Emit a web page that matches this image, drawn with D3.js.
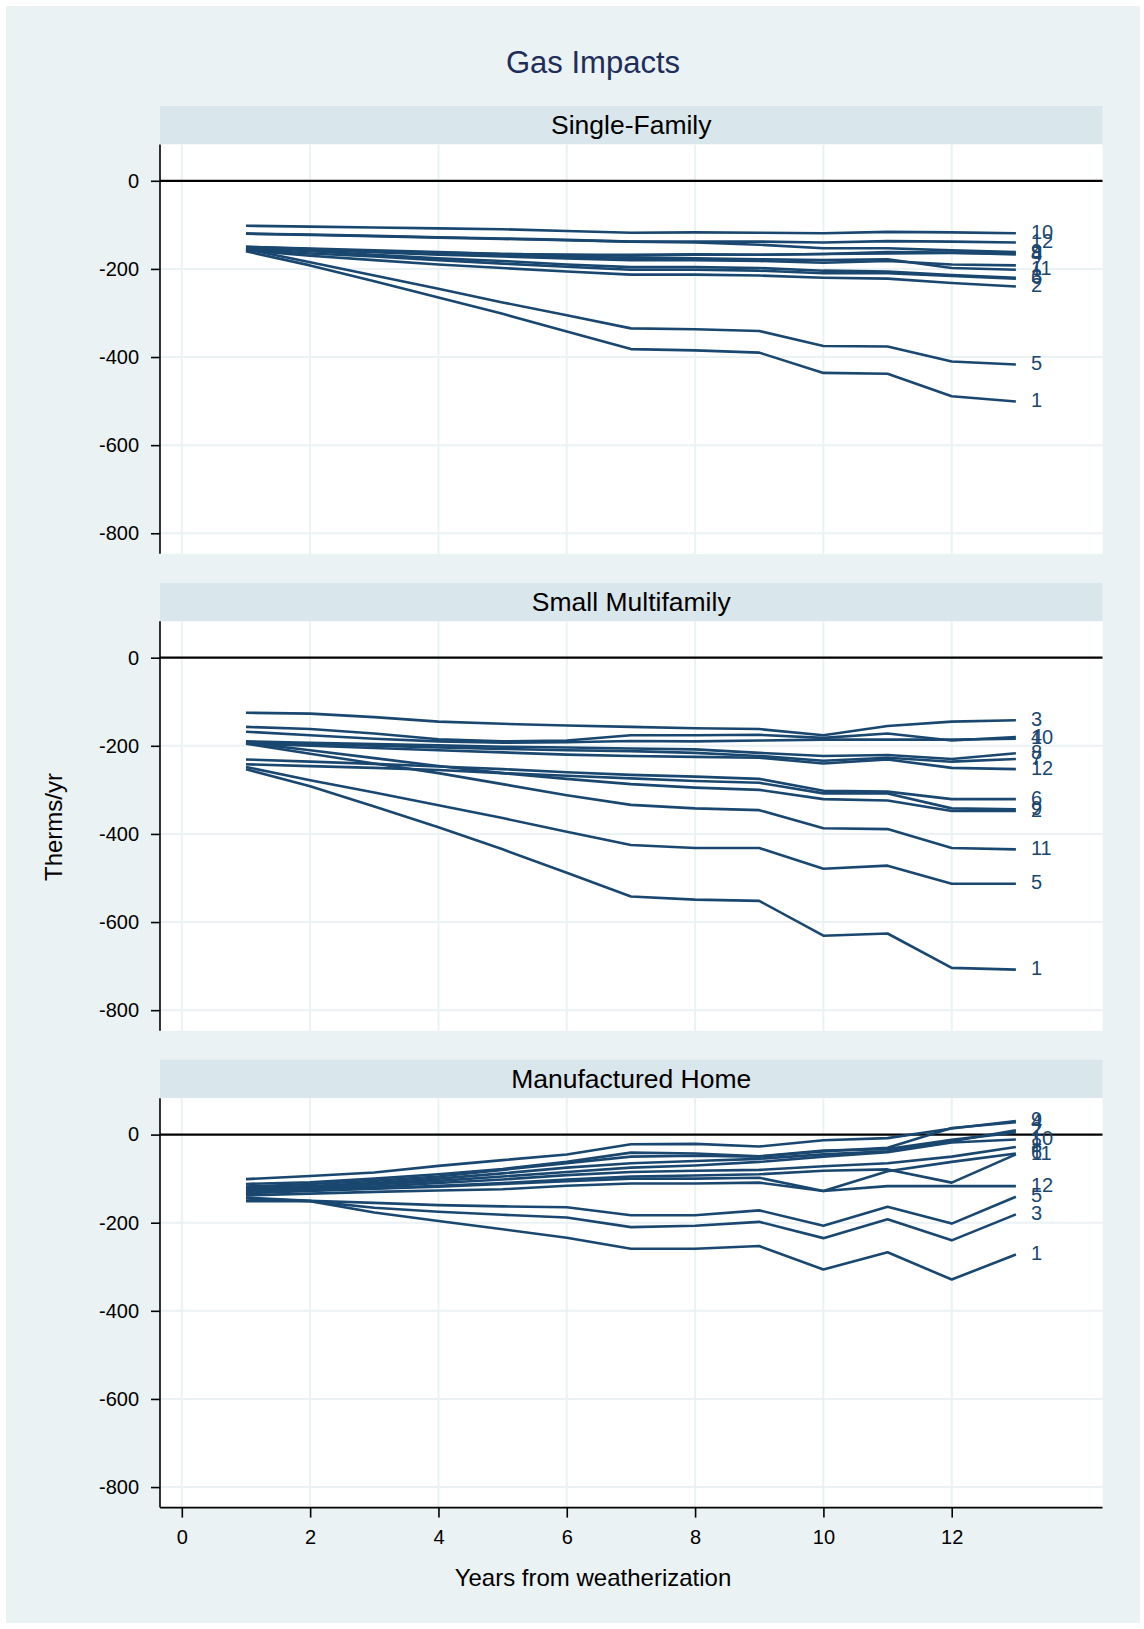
<!DOCTYPE html>
<html>
<head>
<meta charset="utf-8">
<script src="https://cdn.jsdelivr.net/npm/d3@7"></script>
<style>
  html, body { margin: 0; padding: 0; background: #ffffff; }
  svg { display: block; }
  text { font-family: "Liberation Sans", Arial, Helvetica, sans-serif; }
</style>
</head>
<body>
<svg id="chart" width="1144" height="1629"></svg>
<script>
// Years since weatherization (x values shared by every series)
const years = [1, 2, 3, 4, 5, 6, 7, 8, 9, 10, 11, 12, 13];

// Group names, used as the end-of-line labels
const seriesNames = ["1", "2", "3", "4", "5", "6", "7", "8", "9", "10", "11", "12"];

const panelTitles = ["Single-Family", "Small Multifamily", "Manufactured Home"];

// Therms/yr impact, one row per group (1..12), one column per year (1..13)
const singleFamily = [
  [-160, -192, -228, -265, -302, -342, -382, -385, -390, -436, -438, -489, -501],
  [-158, -170, -180, -190, -198, -206, -213, -213, -215, -220, -222, -232, -240],
  [-152, -160, -168, -176, -182, -190, -196, -196, -198, -204, -206, -214, -220],
  [-150, -154, -158, -162, -166, -168, -170, -168, -168, -166, -162, -163, -167],
  [-155, -185, -215, -245, -276, -305, -335, -337, -341, -375, -376, -410, -417],
  [-156, -165, -172, -180, -188, -195, -202, -202, -204, -210, -210, -216, -222],
  [-152, -157, -162, -168, -172, -176, -180, -180, -182, -186, -182, -190, -192],
  [-155, -158, -160, -163, -166, -168, -168, -167, -168, -166, -165, -164, -165],
  [-120, -123, -126, -129, -132, -135, -138, -140, -145, -153, -153, -158, -162],
  [-102, -104, -106, -108, -110, -114, -118, -117, -118, -119, -116, -117, -119],
  [-150, -155, -160, -165, -168, -172, -175, -176, -178, -180, -178, -198, -202],
  [-120, -122, -125, -128, -131, -134, -138, -138, -138, -140, -137, -138, -140]
];

const smallMultifamily = [
  [-253, -292, -338, -385, -435, -488, -542, -549, -552, -631, -626, -704, -708],
  [-193, -210, -228, -246, -262, -275, -287, -295, -300, -321, -324, -348, -348],
  [-125, -127, -135, -145, -150, -154, -157, -160, -162, -176, -155, -145, -142],
  [-157, -162, -172, -185, -190, -188, -176, -176, -175, -182, -172, -188, -180],
  [-248, -278, -306, -335, -364, -395, -425, -432, -432, -479, -472, -513, -513],
  [-231, -236, -241, -247, -253, -260, -266, -270, -275, -302, -304, -321, -321],
  [-192, -196, -200, -204, -207, -210, -212, -216, -223, -234, -227, -236, -230],
  [-190, -193, -196, -199, -202, -204, -206, -208, -216, -223, -221, -230, -217],
  [-242, -246, -250, -255, -262, -268, -274, -280, -284, -308, -308, -342, -344],
  [-168, -176, -184, -190, -193, -192, -189, -190, -188, -186, -186, -186, -184],
  [-195, -218, -240, -262, -287, -312, -334, -342, -346, -387, -389, -432, -435],
  [-195, -200, -205, -210, -215, -220, -223, -225, -227, -240, -231, -250, -253]
];

const manufacturedHome = [
  [-151, -151, -177, -196, -215, -234, -259, -259, -253, -306, -267, -329, -272],
  [-122, -117, -110, -100, -88, -75, -65, -60, -55, -45, -38, -15, 10],
  [-145, -151, -166, -175, -182, -188, -210, -207, -198, -235, -192, -240, -181],
  [-118, -112, -105, -95, -80, -65, -50, -48, -50, -38, -30, 15, 28],
  [-143, -150, -155, -160, -163, -165, -183, -183, -172, -207, -164, -202, -141],
  [-133, -128, -123, -118, -112, -106, -100, -100, -98, -128, -83, -62, -43],
  [-112, -108, -100, -90, -78, -62, -41, -43, -49, -36, -33, -12, 5],
  [-128, -123, -118, -110, -102, -92, -85, -82, -80, -72, -65, -50, -28],
  [-101, -94, -86, -71, -58, -45, -22, -21, -27, -13, -8, 14, 31],
  [-125, -120, -113, -105, -95, -85, -75, -70, -62, -50, -40, -18, -11],
  [-130, -126, -122, -116, -110, -102, -95, -93, -90, -82, -79, -109, -45],
  [-138, -134, -130, -127, -124, -116, -111, -111, -109, -128, -117, -117, -117]
];

const panelData = [singleFamily, smallMultifamily, manufacturedHome];

const xTicks = [0, 2, 4, 6, 8, 10, 12];
const yTicks = [0, -200, -400, -600, -800];

// ---- layout ----
const W = 1144, H = 1629;
const plotLeft = 160, plotRight = 1102.5;
const firstPanelTop = 106, panelStep = 476.9;
const stripH = 38.4, plotH = 409.4;

const lineColor = "#1a476f";
const bgColor = "#eaf2f3";
const stripColor = "#d9e6eb";

const svg = d3.select("#chart");

// outer graph region
svg.append("rect")
  .attr("x", 6).attr("y", 6)
  .attr("width", W - 10).attr("height", H - 12)
  .attr("fill", bgColor);

// overall title
svg.append("text")
  .attr("x", 593).attr("y", 73)
  .attr("text-anchor", "middle")
  .attr("font-size", 31)
  .attr("fill", "#1e2d5c")
  .text("Gas Impacts");

const x = d3.scaleLinear().domain([-0.34, 14.35]).range([plotLeft, plotRight]);

panelData.forEach((rows, p) => {
  const top = firstPanelTop + p * panelStep;
  const pTop = top + stripH;
  const pBottom = pTop + plotH;
  const y = d3.scaleLinear().domain([82.6, -846.6]).range([pTop, pBottom]);

  const g = svg.append("g");

  // header strip
  g.append("rect")
    .attr("x", plotLeft).attr("y", top)
    .attr("width", plotRight - plotLeft).attr("height", stripH)
    .attr("fill", stripColor);
  g.append("text")
    .attr("x", (plotLeft + plotRight) / 2).attr("y", top + stripH / 2 + 9)
    .attr("text-anchor", "middle")
    .attr("font-size", 26.5)
    .attr("fill", "#000")
    .text(panelTitles[p]);

  // plot region
  g.append("rect")
    .attr("x", plotLeft).attr("y", pTop)
    .attr("width", plotRight - plotLeft).attr("height", plotH)
    .attr("fill", "#ffffff");

  // grid lines
  g.selectAll("line.vgrid").data(xTicks).join("line")
    .attr("class", "vgrid")
    .attr("x1", d => x(d)).attr("x2", d => x(d))
    .attr("y1", pTop).attr("y2", pBottom)
    .attr("stroke", bgColor).attr("stroke-width", 2);
  g.selectAll("line.hgrid").data(yTicks.filter(d => d !== 0)).join("line")
    .attr("class", "hgrid")
    .attr("x1", plotLeft).attr("x2", plotRight)
    .attr("y1", d => y(d)).attr("y2", d => y(d))
    .attr("stroke", bgColor).attr("stroke-width", 2);

  // reference line at zero
  g.append("line")
    .attr("x1", plotLeft).attr("x2", plotRight)
    .attr("y1", y(0)).attr("y2", y(0))
    .attr("stroke", "#000").attr("stroke-width", 2.2);

  // y axis
  const yAxis = d3.axisLeft(y).tickValues(yTicks).tickSize(9).tickPadding(12)
    .tickFormat(d3.format("d"));
  const ya = g.append("g").attr("transform", `translate(${plotLeft},0)`).call(yAxis);
  ya.select(".domain").attr("stroke", "#000").attr("stroke-width", 1.6)
    .attr("d", `M0,${pTop}V${pBottom}`);
  ya.selectAll(".tick line").attr("stroke", "#000").attr("stroke-width", 1.6);
  ya.selectAll(".tick text").attr("font-size", 20).attr("fill", "#000")
    .attr("font-family", "\"Liberation Sans\", Arial, sans-serif")
    .text(d => d === 0 ? "0" : "-" + Math.abs(d));

  // series lines
  const line = d3.line().x((d, i) => x(years[i])).y(d => y(d));
  g.selectAll("path.series").data(rows).join("path")
    .attr("class", "series")
    .attr("d", line)
    .attr("fill", "none")
    .attr("stroke", lineColor)
    .attr("stroke-width", 2.6)
    .attr("stroke-linejoin", "round");

  // labels at line ends
  g.selectAll("text.lab").data(rows).join("text")
    .attr("class", "lab")
    .attr("x", x(years[years.length - 1]) + 15)
    .attr("y", d => y(d[d.length - 1]) + 5.5)
    .attr("font-size", 20)
    .attr("fill", lineColor)
    .text((d, i) => seriesNames[i]);

  // x axis only below the last panel
  if (p === panelData.length - 1) {
    const xAxis = d3.axisBottom(x).tickValues(xTicks).tickSize(10).tickPadding(12)
      .tickFormat(d3.format("d"));
    const xa = g.append("g").attr("transform", `translate(0,${pBottom})`).call(xAxis);
    xa.select(".domain").attr("stroke", "#000").attr("stroke-width", 1.6)
      .attr("d", `M${plotLeft},0H${plotRight}`);
    xa.selectAll(".tick line").attr("stroke", "#000").attr("stroke-width", 1.6);
    xa.selectAll(".tick text").attr("font-size", 20).attr("fill", "#000")
      .attr("font-family", "\"Liberation Sans\", Arial, sans-serif");
  }
});

// axis titles
svg.append("text")
  .attr("x", 593).attr("y", 1586)
  .attr("text-anchor", "middle")
  .attr("font-size", 24)
  .attr("fill", "#000")
  .text("Years from weatherization");

svg.append("text")
  .attr("transform", "translate(62,827) rotate(-90)")
  .attr("text-anchor", "middle")
  .attr("font-size", 24)
  .attr("fill", "#000")
  .text("Therms/yr");
</script>
</body>
</html>
